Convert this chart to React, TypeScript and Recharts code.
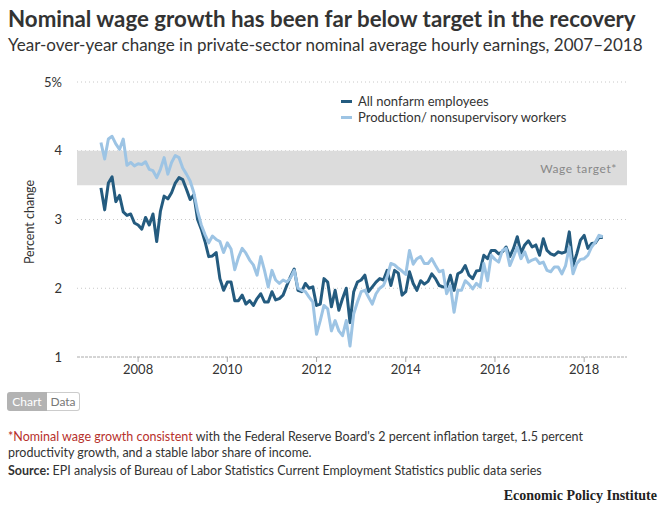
import React from 'react';
import { LineChart, Line, XAxis, YAxis, CartesianGrid, ReferenceArea, Label } from 'recharts';

// monthly, March 2007 through June 2018
const startYear = 2007;
const startMonth = 2; // March (0-based)

const allNonfarm = [
  3.46, 3.14, 3.53, 3.62, 3.26, 3.35, 3.11, 3.06, 3.08, 2.95, 2.92, 2.86, 3.03, 2.92, 3.08, 2.68,
  3.12, 3.34, 3.30, 3.39, 3.53, 3.61, 3.58, 3.44, 3.29, 3.36, 3.00, 2.86, 2.68, 2.46, 2.47, 2.52,
  2.14, 1.97, 2.09, 2.09, 1.82, 1.82, 1.90, 1.77, 1.82, 1.75, 1.85, 1.92, 1.80, 1.80, 1.95, 1.83,
  1.85, 1.90, 2.04, 2.17, 2.28, 1.97, 1.95, 2.07, 2.00, 2.02, 1.75, 1.77, 2.14, 2.09, 1.73, 1.97,
  1.68, 1.85, 2.00, 1.50, 1.95, 2.09, 2.12, 2.19, 1.95, 2.02, 2.09, 2.14, 2.12, 2.26, 2.04, 2.26,
  2.22, 1.90, 1.95, 2.24, 2.07, 1.97, 2.11, 2.06, 2.10, 2.21, 2.14, 2.04, 2.02, 2.02, 2.19, 1.97,
  2.21, 2.24, 2.33, 2.19, 2.14, 2.25, 2.26, 2.48, 2.43, 2.55, 2.55, 2.50, 2.53, 2.60, 2.46, 2.58,
  2.75, 2.51, 2.63, 2.69, 2.60, 2.63, 2.48, 2.72, 2.55, 2.50, 2.48, 2.53, 2.51, 2.53, 2.82, 2.33,
  2.50, 2.70, 2.77, 2.58, 2.65, 2.66, 2.74, 2.74,
];

const productionWorkers = [
  4.12, 3.88, 4.17, 4.21, 4.10, 4.02, 4.17, 3.79, 3.83, 3.78, 3.81, 3.80, 3.84, 3.73, 3.71, 3.61,
  3.73, 3.90, 3.66, 3.83, 3.93, 3.90, 3.75, 3.66, 3.56, 3.39, 3.12, 2.92, 2.78, 2.66, 2.76, 2.71,
  2.68, 2.52, 2.66, 2.57, 2.27, 2.45, 2.58, 2.51, 2.41, 2.34, 2.19, 2.46, 2.26, 2.02, 2.26, 2.12,
  2.07, 2.12, 2.09, 2.15, 2.26, 2.00, 1.97, 1.95, 1.87, 1.80, 1.33, 1.53, 1.75, 1.70, 1.38, 1.53,
  1.38, 1.31, 1.53, 1.16, 1.63, 1.80, 1.95, 1.97, 1.87, 1.77, 1.92, 2.00, 2.04, 2.17, 2.36, 2.34,
  2.29, 2.25, 2.20, 2.55, 2.35, 2.43, 2.46, 2.36, 2.36, 2.43, 2.33, 2.24, 2.26, 1.92, 2.04, 1.65,
  1.97, 1.97, 2.11, 2.06, 1.99, 2.07, 2.02, 2.36, 2.11, 2.48, 2.42, 2.38, 2.55, 2.58, 2.33, 2.46,
  2.60, 2.43, 2.53, 2.38, 2.41, 2.43, 2.36, 2.38, 2.26, 2.24, 2.31, 2.31, 2.21, 2.33, 2.60, 2.21,
  2.36, 2.42, 2.43, 2.48, 2.60, 2.67, 2.77, 2.75,
];

const yearTicks = [2008, 2010, 2012, 2014, 2016, 2018];
const percentTicks = [1, 2, 3, 4, 5];
const seriesNames = ['All nonfarm employees', 'Production/ nonsupervisory workers'];

const data = allNonfarm.map((v, i) => ({
  t: startYear + (startMonth + i) / 12,
  all: v,
  prod: productionWorkers[i],
}));

const DARK = '#245b7f';
const LIGHT = '#9dc4e4';
const FONT = 'Lato, "Open Sans", sans-serif';

export default function App() {
  return (
    <div style={{ position: 'relative', width: 672, height: 517, background: '#fff', fontFamily: FONT, color: '#333' }}>
      <style>{'body{margin:0}'}</style>
      <div style={{ position: 'absolute', left: 8, top: 5, fontSize: 22.3, fontWeight: 700, whiteSpace: 'nowrap' }}>
        Nominal wage growth has been far below target in the recovery
      </div>
      <div style={{ position: 'absolute', left: 8, top: 34, fontSize: 17, fontWeight: 400, whiteSpace: 'nowrap' }}>
        Year-over-year change in private-sector nominal average hourly earnings, 2007–2018
      </div>

      <div style={{ position: 'absolute', left: 0, top: 0 }}>
        <LineChart width={672} height={400} data={data} margin={{ top: 82, right: 45, bottom: 13, left: 17 }}>
          <ReferenceArea y1={3.5} y2={4} fill="#dcdcdc" fillOpacity={1} stroke="none" ifOverflow="visible">
            <Label
              content={(p: any) => {
                const vb = p.viewBox || {};
                return (
                  <text x={vb.x + vb.width - 10} y={vb.y + vb.height / 2 + 5} textAnchor="end"
                    fontSize={12} fill="#888" letterSpacing={0.6} fontFamily={FONT}>
                    Wage target*
                  </text>
                );
              }}
            />
          </ReferenceArea>
          <CartesianGrid vertical={false} stroke="#c8c8c8" strokeDasharray="1 3" horizontalValues={[2, 3, 4, 5]} />
          <XAxis
            dataKey="t"
            type="number"
            domain={[2006.63, 2018.96]}
            ticks={yearTicks}
            allowDataOverflow
            height={30}
            axisLine={{ stroke: '#aaa', strokeDasharray: '3 1' }}
            tickLine={{ stroke: '#aaa' }}
            tickSize={5}
            tickMargin={3}
            tick={{ fontSize: 13, fill: '#333', fontFamily: FONT }}
          />
          <YAxis
            type="number"
            domain={[1, 5]}
            ticks={percentTicks}
            width={60}
            axisLine={false}
            tickLine={false}
            tickSize={0}
            tickMargin={15}
            tickFormatter={(v: number) => (v === 5 ? '5%' : String(v))}
            tick={{ fontSize: 13, fill: '#333', fontFamily: FONT }}
          >
            <Label
              content={() => (
                <text x={31} y={222} transform="rotate(-90 31 222)" textAnchor="middle" dominantBaseline="middle"
                  fontSize={12.5} fill="#333" fontFamily={FONT}>
                  Percent change
                </text>
              )}
            />
          </YAxis>
          <Line type="linear" dataKey="all" name={seriesNames[0]} stroke={DARK} strokeWidth={3}
            dot={false} isAnimationActive={false} strokeLinejoin="round" />
          <Line type="linear" dataKey="prod" name={seriesNames[1]} stroke={LIGHT} strokeWidth={3}
            dot={false} isAnimationActive={false} strokeLinejoin="round" />
        </LineChart>
      </div>

      <div style={{ position: 'absolute', left: 341, top: 93, fontSize: 13, lineHeight: '16px', color: '#333' }}>
        {seriesNames.map((name, i) => (
          <div key={name} style={{ display: 'flex', alignItems: 'center', whiteSpace: 'nowrap' }}>
            <span style={{ display: 'inline-block', width: 11, height: 3, background: i === 0 ? DARK : LIGHT, marginRight: 6 }} />
            {name}
          </div>
        ))}
      </div>

      <div style={{ position: 'absolute', left: 7, top: 392, display: 'flex', height: 19, fontSize: 12, lineHeight: '19px' }}>
        <div style={{ width: 40, background: '#b3b3b3', color: '#fff', textAlign: 'center', borderRadius: '3px 0 0 3px' }}>Chart</div>
        <div style={{ width: 33, border: '1px solid #ccc', borderLeft: 'none', boxSizing: 'border-box', color: '#777', textAlign: 'center', lineHeight: '17px', borderRadius: '0 3px 3px 0' }}>Data</div>
      </div>

      <div style={{ position: 'absolute', left: 8, top: 429, fontSize: 12.5, lineHeight: '16px', whiteSpace: 'nowrap' }}>
        <div>
          <span style={{ color: '#b7312c' }}>*Nominal wage growth consistent</span>
          <span> with the Federal Reserve Board's 2 percent inflation target, 1.5 percent</span>
        </div>
        <div>productivity growth, and a stable labor share of income.</div>
      </div>
      <div style={{ position: 'absolute', left: 8, top: 463, fontSize: 12.5, lineHeight: '16px', whiteSpace: 'nowrap' }}>
        <b>Source:</b> EPI analysis of Bureau of Labor Statistics Current Employment Statistics public data series
      </div>
      <div style={{ position: 'absolute', right: 15, top: 488, fontSize: 14, fontWeight: 700, fontFamily: '"Liberation Serif", "DejaVu Serif", serif', color: '#222' }}>
        Economic Policy Institute
      </div>
    </div>
  );
}
